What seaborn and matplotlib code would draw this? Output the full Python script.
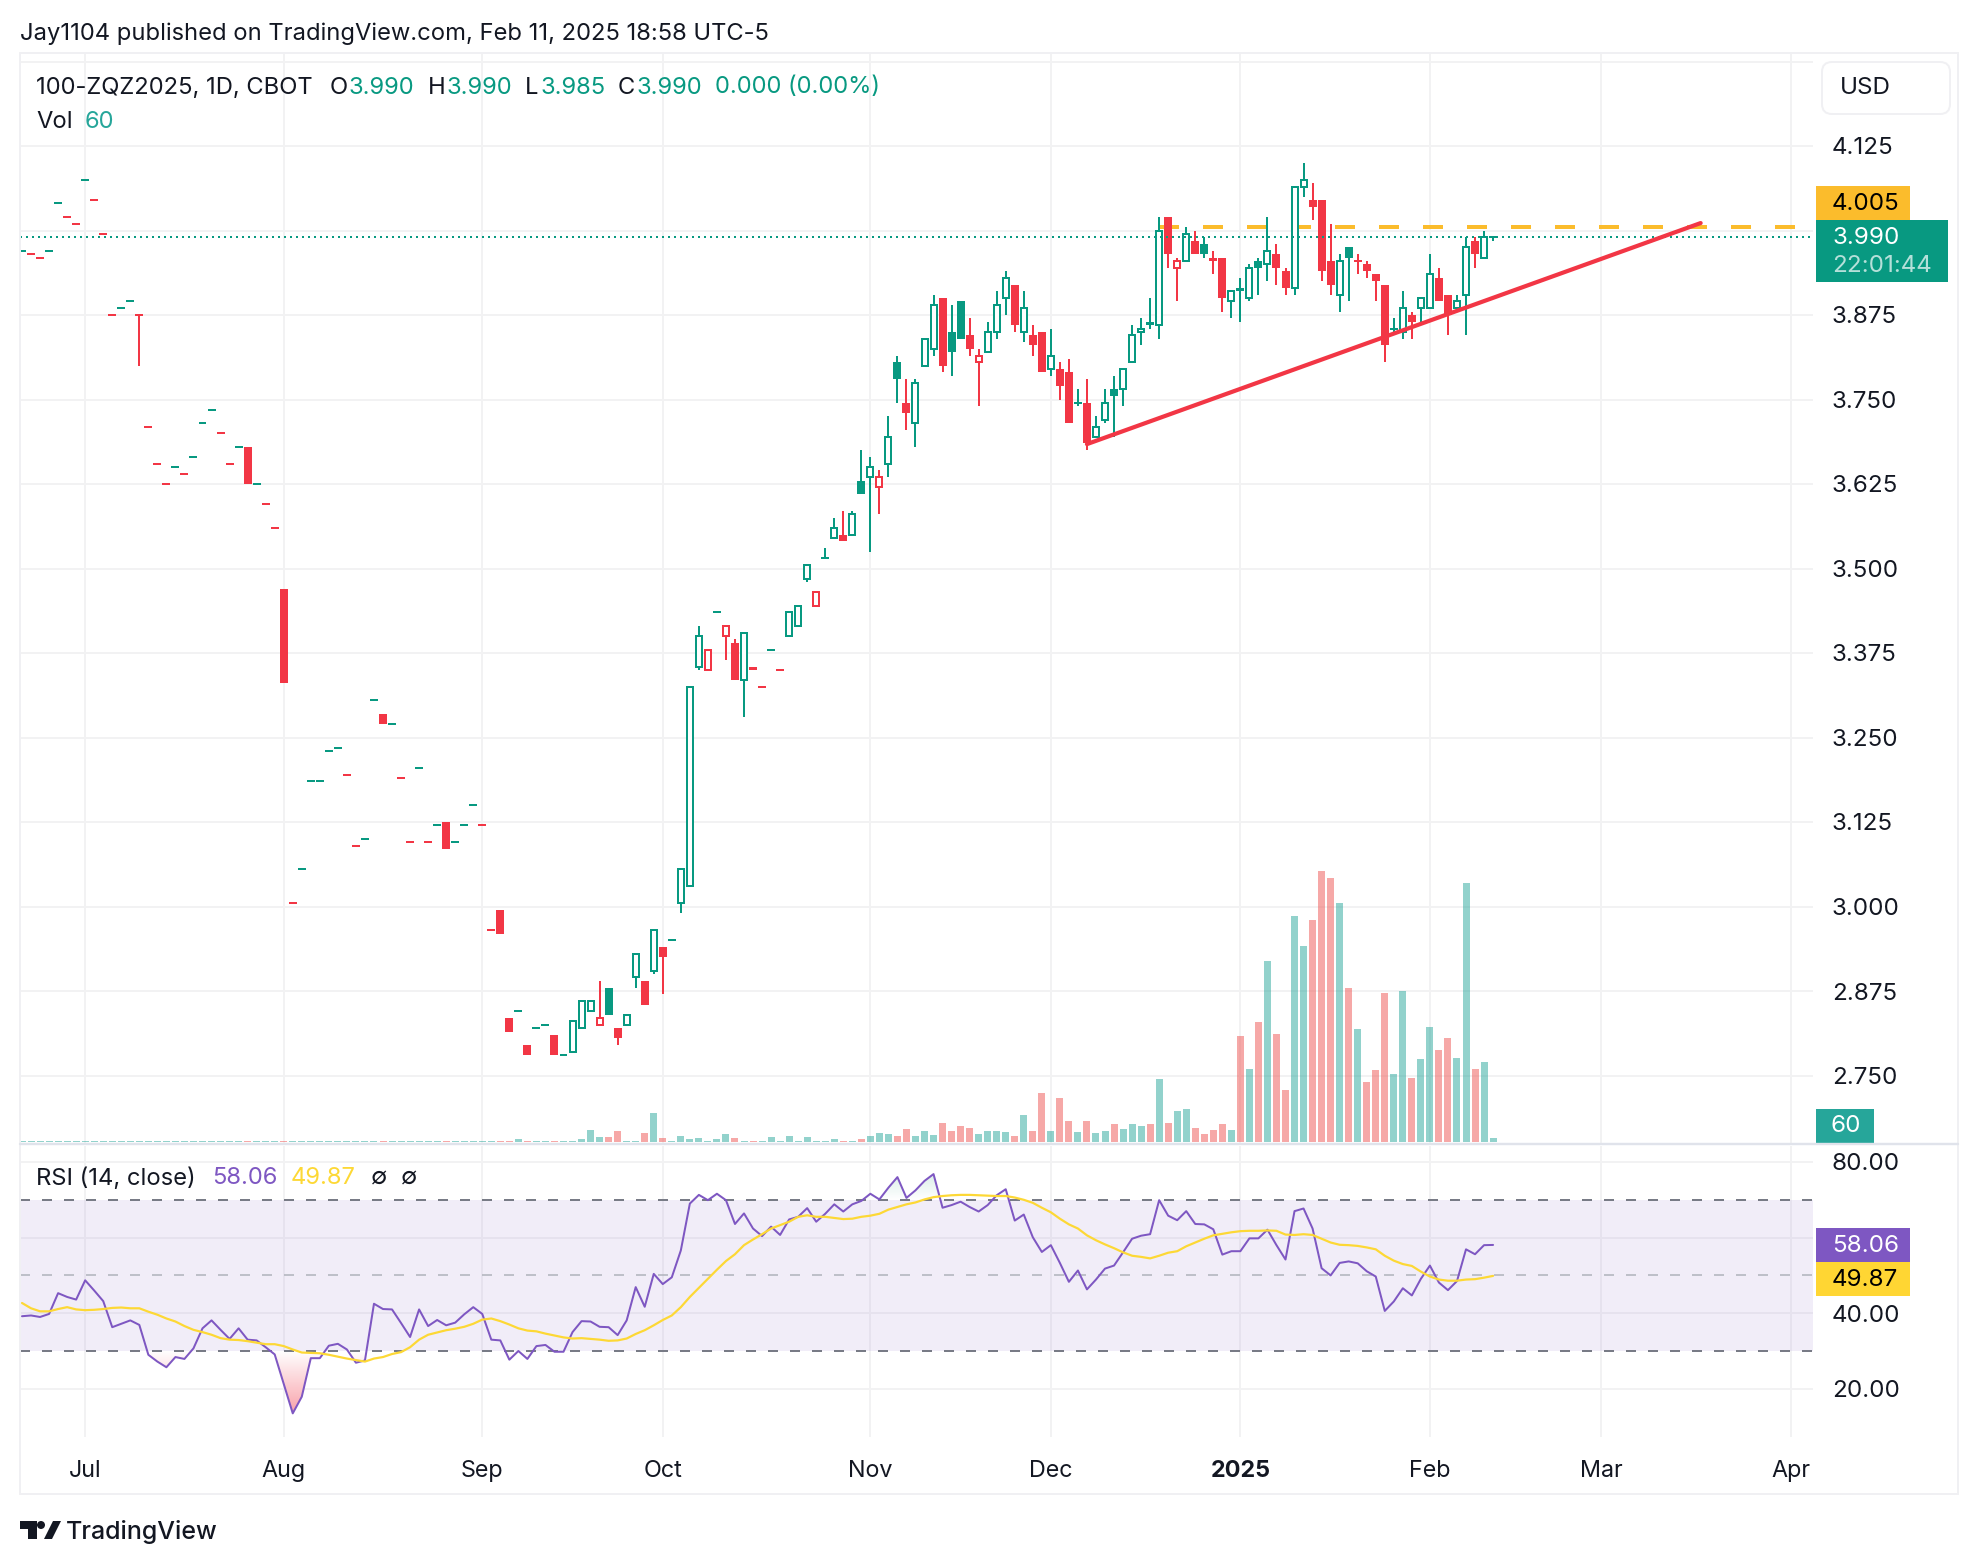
import numpy as np
import pandas as pd
import matplotlib
matplotlib.use("Agg")
import matplotlib.pyplot as plt
from matplotlib.patches import Rectangle, FancyBboxPatch, Circle, Polygon
from matplotlib.path import Path
from matplotlib.colors import LinearSegmentedColormap
import seaborn as sns

# --- data ---
opens = [3.97,3.965,3.96,3.97,4.04,4.02,4.01,4.075,4.045,3.995,
    3.875,3.885,3.895,3.875,3.71,3.655,3.625,3.65,3.64,3.665,
    3.715,3.735,3.70,3.655,3.68,3.68,3.625,3.595,3.56,3.47,
    3.005,3.055,3.185,3.185,3.23,3.235,3.195,3.09,3.10,3.305,
    3.285,3.27,3.19,3.095,3.205,3.095,3.12,3.125,3.095,3.12,
    3.15,3.12,2.965,2.995,2.835,2.845,2.795,2.82,2.825,2.81,
    2.78,2.785,2.82,2.845,2.825,2.88,2.82,2.825,2.895,2.89,
    2.905,2.94,2.95,3.005,3.03,3.355,3.35,3.435,3.40,3.39,
    3.335,3.355,3.325,3.38,3.35,3.40,3.415,3.485,3.445,3.515,
    3.545,3.55,3.55,3.63,3.635,3.62,3.655,3.805,3.745,3.715,
    3.80,3.825,3.90,3.85,3.895,3.845,3.805,3.82,3.85,3.90,
    3.92,3.85,3.845,3.85,3.795,3.795,3.79,3.745,3.745,3.695,
    3.72,3.765,3.765,3.805,3.85,3.865,3.86,4.02,3.945,3.955,
    3.985,3.98,3.96,3.96,3.895,3.915,3.90,3.955,3.95,3.965,
    3.94,3.915,4.065,4.045,4.045,3.955,3.905,3.975,3.955,3.95,
    3.935,3.92,3.855,3.85,3.875,3.885,3.885,3.93,3.905,3.885,
    3.905,3.985,3.96,3.99]
closes = [3.97,3.965,3.96,3.97,4.04,4.02,4.01,4.075,4.045,3.995,
    3.875,3.885,3.895,3.875,3.71,3.655,3.625,3.65,3.64,3.665,
    3.715,3.735,3.70,3.655,3.68,3.625,3.625,3.595,3.56,3.33,
    3.005,3.055,3.185,3.185,3.23,3.235,3.195,3.09,3.10,3.305,
    3.27,3.27,3.19,3.095,3.205,3.095,3.12,3.085,3.095,3.12,
    3.15,3.12,2.965,2.96,2.815,2.845,2.78,2.82,2.825,2.78,
    2.78,2.83,2.86,2.86,2.835,2.84,2.805,2.84,2.93,2.855,
    2.965,2.925,2.95,3.055,3.325,3.40,3.38,3.435,3.415,3.335,
    3.405,3.35,3.325,3.38,3.35,3.435,3.445,3.505,3.465,3.515,
    3.56,3.54,3.58,3.61,3.65,3.635,3.695,3.78,3.73,3.775,
    3.84,3.89,3.80,3.82,3.84,3.825,3.815,3.85,3.89,3.93,
    3.86,3.885,3.83,3.79,3.815,3.77,3.715,3.745,3.685,3.71,
    3.745,3.755,3.795,3.845,3.855,3.86,4.0,3.965,3.955,3.995,
    3.965,3.965,3.955,3.90,3.91,3.91,3.945,3.945,3.97,3.945,
    3.915,4.065,4.075,4.035,3.94,3.92,3.955,3.96,3.955,3.94,
    3.925,3.83,3.855,3.885,3.865,3.90,3.935,3.895,3.875,3.895,
    3.975,3.965,3.99,3.99]
highs = [3.97,3.965,3.96,3.97,4.04,4.02,4.01,4.075,4.045,3.995,
    3.875,3.885,3.895,3.875,3.71,3.655,3.625,3.65,3.64,3.665,
    3.715,3.735,3.70,3.655,3.68,3.68,3.625,3.595,3.56,3.47,
    3.005,3.055,3.185,3.185,3.23,3.235,3.195,3.09,3.10,3.305,
    3.285,3.27,3.19,3.095,3.205,3.095,3.12,3.125,3.095,3.12,
    3.15,3.12,2.965,2.995,2.835,2.845,2.795,2.82,2.825,2.81,
    2.78,2.83,2.86,2.86,2.89,2.88,2.82,2.84,2.93,2.89,
    2.965,2.94,2.95,3.055,3.325,3.415,3.38,3.435,3.415,3.395,
    3.405,3.355,3.325,3.38,3.35,3.435,3.445,3.505,3.465,3.53,
    3.575,3.585,3.585,3.675,3.665,3.645,3.725,3.815,3.78,3.78,
    3.84,3.905,3.90,3.89,3.895,3.87,3.825,3.865,3.91,3.94,
    3.92,3.91,3.86,3.85,3.855,3.805,3.81,3.765,3.78,3.725,
    3.765,3.785,3.795,3.86,3.87,3.90,4.02,4.02,3.96,4.005,
    4.0,3.99,3.97,3.96,3.91,3.93,3.95,3.96,4.02,3.98,
    3.945,4.065,4.10,4.07,4.045,4.01,3.965,3.975,3.965,3.955,
    3.935,3.92,3.87,3.91,3.88,3.90,3.965,3.945,3.905,3.905,
    3.99,3.99,4.0,3.99]
lows = [3.97,3.965,3.96,3.97,4.04,4.02,4.01,4.075,4.045,3.995,
    3.875,3.885,3.895,3.80,3.71,3.655,3.625,3.65,3.64,3.665,
    3.715,3.735,3.70,3.655,3.68,3.625,3.625,3.595,3.56,3.33,
    3.005,3.055,3.185,3.185,3.23,3.235,3.195,3.09,3.10,3.305,
    3.27,3.27,3.19,3.095,3.205,3.095,3.12,3.085,3.095,3.12,
    3.15,3.12,2.965,2.96,2.815,2.845,2.78,2.82,2.825,2.78,
    2.78,2.785,2.82,2.845,2.825,2.84,2.795,2.825,2.88,2.855,
    2.90,2.87,2.95,2.99,3.03,3.35,3.35,3.435,3.365,3.335,
    3.28,3.35,3.325,3.38,3.35,3.40,3.415,3.48,3.445,3.515,
    3.545,3.54,3.55,3.61,3.525,3.58,3.635,3.745,3.705,3.68,
    3.80,3.815,3.79,3.785,3.84,3.815,3.74,3.82,3.84,3.875,
    3.85,3.835,3.815,3.79,3.785,3.75,3.715,3.74,3.675,3.695,
    3.715,3.695,3.74,3.805,3.83,3.855,3.84,3.945,3.895,3.955,
    3.965,3.96,3.935,3.88,3.87,3.865,3.895,3.905,3.925,3.92,
    3.905,3.905,4.05,4.015,3.925,3.905,3.88,3.895,3.935,3.93,
    3.895,3.805,3.845,3.84,3.84,3.86,3.885,3.895,3.845,3.88,
    3.845,3.945,3.96,3.985]
sides = ("grrggrrgrr" "rggrrrrgrg" "ggrrgrgrrr" "rgggggrrgg" "rgrrgrgrgg"
         "grrrrgrggr" "ggggrgrggr" "grggggrgrr" "grrgrgggrg" "grgggrggrg"
         "ggrggrrggg" "rgrrgrrgrg" "gggggggrrg" "rgrrgggggr" "rggrrrggrr"
         "rrggrggrrg" "grgg")
volumes = [10]*55 + [45,15,15,15,15,15,15,45,180,75,
    75,165,20,15,135,435,60,15,90,45,60,15,45,120,60,15,15,15,75,15,
    90,15,75,15,15,45,15,15,45,90,135,120,90,195,90,165,105,285,
    170,245,210,115,170,170,150,95,400,170,737,170,660,320,150,320,130,
    165,270,195,270,240,270,945,285,465,495,210,120,180,270,180,
    1590,1095,1800,2715,1620,780,3390,2940,3330,4065,3960,3585,2310,1695,900,
    1080,2235,1020,2265,960,1245,1725,1380,1560,1260,3885,1095,1200,60]
rsi = [39.2,39.4,39.0,39.8,45.3,44.3,43.6,48.7,46.0,43.2,
    36.3,37.2,38.1,36.9,29.0,27.2,25.7,28.4,27.9,30.7,
    36.0,38.1,35.6,33.2,36.0,33.0,32.8,31.0,29.1,21.3,
    13.5,17.9,28.1,28.1,31.4,31.9,30.4,26.9,27.5,42.5,
    41.1,41.0,37.4,33.7,41.0,36.6,38.2,36.8,37.5,39.7,
    41.6,39.8,33.0,32.8,27.7,30.0,27.9,31.3,31.6,29.8,
    29.8,35.0,37.9,37.8,36.4,36.3,34.2,38.1,46.9,41.7,
    50.4,47.7,49.5,56.6,69.0,71.3,69.9,71.6,69.9,63.6,
    66.4,62.4,60.4,62.9,60.7,64.8,65.5,67.8,64.2,66.3,
    68.8,66.9,68.8,69.7,71.6,70.1,73.2,76.0,70.5,72.5,
    75.0,76.8,67.9,68.6,69.5,68.1,66.9,68.6,71.2,72.8,
    64.5,66.1,60.1,56.2,58.0,53.3,48.3,51.3,46.3,48.9,
    51.8,52.6,56.1,59.7,60.5,60.9,69.9,65.8,64.6,67.0,
    63.6,63.5,62.2,55.5,56.4,56.4,59.8,59.8,62.1,58.0,
    54.2,67.0,67.7,62.4,51.9,50.0,53.3,53.7,53.2,51.1,
    49.7,40.6,43.1,46.6,44.7,49.1,52.6,48.1,46.1,48.5,
    56.9,55.6,58.0,58.06]
rsi_ma = [42.7,41.3,40.5,40.5,41.1,41.6,41.0,40.8,40.9,41.1,
    41.4,41.5,41.3,41.3,40.4,39.6,38.6,37.8,36.6,35.6,
    35.0,34.3,33.4,33.0,32.9,32.6,32.2,31.8,31.8,31.3,
    30.4,29.6,29.5,29.4,29.0,28.5,28.0,27.6,27.2,28.0,
    28.4,29.2,29.7,31.0,33.0,34.3,34.9,35.5,35.9,36.4,
    37.2,38.3,38.6,37.9,37.0,36.0,35.4,35.2,34.6,34.1,
    33.6,33.3,33.4,33.2,33.0,32.7,32.8,33.3,34.5,35.5,
    36.8,38.2,39.4,41.6,44.3,46.7,49.1,51.5,53.8,55.6,
    58.0,59.5,60.9,62.4,63.3,64.2,65.5,65.9,65.5,65.5,
    65.2,64.9,65.0,65.5,65.8,66.3,67.4,68.1,68.8,69.3,
    70.1,70.7,71.0,71.2,71.3,71.3,71.2,71.1,71.0,71.0,
    70.6,70.0,69.2,67.9,66.7,65.0,63.5,62.4,60.6,59.3,
    58.2,57.2,56.1,55.2,54.9,54.5,55.2,56.0,56.4,57.7,
    58.7,59.7,60.6,61.0,61.4,61.7,61.8,61.8,61.9,61.8,
    60.8,60.7,60.9,60.7,59.7,58.7,58.1,58.0,57.8,57.4,
    56.9,55.2,53.9,53.0,52.5,51.0,49.7,48.9,48.6,48.6,
    48.9,49.0,49.4,49.87]

month_bars = [7, 29, 51, 71, 94, 114, 135, 156, 175, 196]
month_labels = ["Jul", "Aug", "Sep", "Oct", "Nov", "Dec", "2025", "Feb", "Mar", "Apr"]
price_ticks = [2.75, 2.875, 3.0, 3.125, 3.25, 3.375, 3.5, 3.625, 3.75, 3.875, 4.0, 4.125, 4.25]
rsi_ticks = [20, 40, 60, 80]
trend_bars = [118, 186]
trend_prices = [3.684, 4.011]
resistance = 4.005
last_close = 3.99

# --- kolory / uklad ---
GREEN = "#089981"
RED = "#F23645"
TEXT = "#131722"
GRID = "#F2F2F3"
PURPLE = "#7E57C2"
YELLOW = "#FDD835"
ORANGE = "#FBBC2C"
W, H = 1978, 1564
BAR_PX = 9.025
LW = 72 / 100  # 1 px in points
AXIS_SIZE = 17.4
LEGEND_SIZE = 17.1


def px_axes(left, top, right, bottom, **kw):
    return fig.add_axes([left / W, 1 - bottom / H, (right - left) / W, (bottom - top) / H], **kw)


sns.set_theme(style="white")
plt.rcParams["font.family"] = ["Inter", "DejaVu Sans"]

fig = plt.figure(figsize=(W / 100, H / 100), dpi=100, facecolor="white")

bars = np.arange(len(closes))
o = np.array(opens)
c = np.array(closes)
h = np.array(highs)
l = np.array(lows)
cols = np.array([GREEN if s == "g" else RED for s in sides])

xlim = ((20 - 22) / BAR_PX, (1813 - 22) / BAR_PX)

# --- price pane ---
ax = px_axes(20, 53, 1813, 1144, zorder=1)
ax.vlines(bars, l, h, colors=cols, lw=2 * LW, zorder=2)
f = c < o
ax.bar(bars[f], (o - c)[f], bottom=c[f], width=8 / BAR_PX, color=cols[f], linewidth=0, zorder=3)
u = c > o
ax.bar(bars[u], (c - o)[u], bottom=o[u], width=6 / BAR_PX, facecolor="white",
       edgecolor=cols[u], linewidth=2 * LW, zorder=3)
d = c == o
ax.hlines(c[d], bars[d] - 0.443, bars[d] + 0.443, colors=cols[d], lw=2 * LW, zorder=3)

ax.plot(trend_bars, trend_prices, color=RED, lw=4.2 * LW, zorder=5, solid_capstyle="round")
ax.plot([126, xlim[1]], [resistance, resistance], color=ORANGE, lw=4 * LW, zorder=1.5,
        linestyle=(0, (5, 6)), dash_capstyle="butt")
ax.plot(xlim, [last_close, last_close], color=GREEN, lw=2 * LW, zorder=4,
        linestyle=(0, (1, 2)), dash_capstyle="butt")

ax.set_xlim(xlim)
ax.set_ylim(4.125 - (1144 - 146) / 676, 4.125 + (146 - 53) / 676)
ax.set_xticks(month_bars)
ax.set_yticks(price_ticks)
# 4.000 sits behind the 4.005 tag, 4.250 behind the USD button
ax.set_yticklabels(["" if p in (4.0, 4.25) else f"{p:.3f}" for p in price_ticks])
ax.yaxis.tick_right()
ax.tick_params(axis="y", length=0, pad=19 * LW, labelsize=AXIS_SIZE, labelcolor=TEXT)
ax.tick_params(axis="x", length=0, labelbottom=False)
ax.grid(True, color=GRID, lw=2 * LW)
ax.set_axisbelow(True)
sns.despine(ax=ax, left=True, right=True, top=True, bottom=True)

# --- volume overlay ---
vol_df = pd.DataFrame({"bar": bars, "volume": volumes,
                       "vol_side": np.where(c >= o, "up", "down")})
ax_vol = px_axes(20, 53, 1813, 1142, zorder=2)
ax_vol.patch.set_alpha(0)
sns.barplot(data=vol_df, x="bar", y="volume", hue="vol_side", dodge=False, native_scale=True,
            palette={"up": "#26A69A", "down": "#EF5350"}, width=7 / BAR_PX, saturation=1,
            alpha=0.5, linewidth=0, legend=False, ax=ax_vol)
ax_vol.set_xlim(xlim)
ax_vol.set_ylim(0, (1142 - 53) * 15)
ax_vol.axis("off")

# --- RSI pane ---
ax_rsi = px_axes(20, 1146, 1813, 1437, zorder=1)
rsi_df = pd.DataFrame({"bar": bars, "rsi": rsi, "ma": rsi_ma})
rsi_arr = np.array(rsi)
rsi_low = 80 - (1437 - 1162) / 3.78
rsi_high = 80 + (1162 - 1146) / 3.78
ax_rsi.axhspan(30, 70, color=PURPLE, alpha=0.1, lw=0, zorder=1)
ax_rsi.axhline(70, color="#787B86", lw=2 * LW, linestyle=(0, (5, 6)), dash_capstyle="butt", zorder=2)
ax_rsi.axhline(30, color="#787B86", lw=2 * LW, linestyle=(0, (5, 6)), dash_capstyle="butt", zorder=2)
ax_rsi.axhline(50, color="#B2B5BE", lw=1.6 * LW, linestyle=(0, (6.25, 7.5)), dash_capstyle="butt", zorder=2)

# gradient below 30 and above 70, clipped to the area under the line
grad_lo = LinearSegmentedColormap.from_list("lo", ["#F9A3AB", "#FFFFFF"])
grad_hi = LinearSegmentedColormap.from_list("hi", ["#FFFFFF", "#DCEFE9"])
poly_lo = ax_rsi.fill_between(bars, rsi_arr, 30, where=rsi_arr < 30, interpolate=True, color="none")
poly_hi = ax_rsi.fill_between(bars, rsi_arr, 70, where=rsi_arr > 70, interpolate=True, color="none")
im_lo = ax_rsi.imshow(np.linspace(0, 1, 64)[:, None], origin="lower", aspect="auto", cmap=grad_lo,
                      extent=[xlim[0], xlim[1], 13.5, 30], zorder=1.5)
im_lo.set_clip_path(Path.make_compound_path(*poly_lo.get_paths()), transform=ax_rsi.transData)
im_hi = ax_rsi.imshow(np.linspace(0, 1, 64)[:, None], origin="lower", aspect="auto", cmap=grad_hi,
                      extent=[xlim[0], xlim[1], 70, 76.8], zorder=1.5)
im_hi.set_clip_path(Path.make_compound_path(*poly_hi.get_paths()), transform=ax_rsi.transData)

sns.lineplot(data=rsi_df, x="bar", y="rsi", color=PURPLE, lw=2 * LW, errorbar=None, ax=ax_rsi, zorder=3)
sns.lineplot(data=rsi_df, x="bar", y="ma", color=YELLOW, lw=2.2 * LW, errorbar=None, ax=ax_rsi, zorder=4)
ax_rsi.set_xlim(xlim)
ax_rsi.set_ylim(rsi_low, rsi_high)
ax_rsi.set_xlabel("")
ax_rsi.set_ylabel("")
ax_rsi.set_xticks(month_bars)
ax_rsi.set_xticklabels(month_labels)
ax_rsi.get_xticklabels()[6].set_fontweight("bold")
ax_rsi.set_yticks(rsi_ticks)
# 60.00 is covered by the RSI value tags
ax_rsi.set_yticklabels(["" if v == 60 else f"{v:.2f}" for v in rsi_ticks])
ax_rsi.yaxis.tick_right()
ax_rsi.tick_params(axis="y", length=0, pad=19 * LW, labelsize=AXIS_SIZE, labelcolor=TEXT)
ax_rsi.tick_params(axis="x", length=0, pad=23 * LW, labelsize=16.8, labelcolor=TEXT)
ax_rsi.grid(True, color=GRID, lw=2 * LW)
ax_rsi.set_axisbelow(True)
sns.despine(ax=ax_rsi, left=True, right=True, top=True, bottom=True)

# --- frame, labels, logo: overlay in pixel coordinates ---
top = fig.add_axes([0, 0, 1, 1], zorder=5)
top.set_xlim(0, W)
top.set_ylim(H, 0)
top.axis("off")
top.patch.set_alpha(0)
for x0, y0, x1, y1 in [(20, 53, 1958, 53), (20, 1494, 1958, 1494), (20, 53, 20, 1494), (1958, 53, 1958, 1494)]:
    top.plot([x0, x1], [y0, y1], color="#F0F0F3", lw=2 * LW)
top.plot([20, 1958], [1144, 1144], color="#E0E3EB", lw=2.4 * LW)


def tag(x0, y0, x1, y1, color):
    top.add_patch(Rectangle((x0, y0), x1 - x0, y1 - y0, facecolor=color, edgecolor="none"))


def txt(x, y, s, color=TEXT, size=LEGEND_SIZE, **kw):
    top.text(x, y + 2.5, s, color=color, fontsize=size, va="center", **kw)


top.add_patch(FancyBboxPatch((1822, 62), 128, 52, boxstyle="round,pad=0,rounding_size=10",
                             facecolor="white", edgecolor="#F0F0F3", lw=2 * LW))
txt(1840, 86, "USD", color="#131722", size=AXIS_SIZE)

tag(1816, 186, 1910, 220, ORANGE)
txt(1832, 202, "4.005", color="black", size=AXIS_SIZE)
tag(1816, 220, 1948, 282, GREEN)
txt(1832, 236, "3.990", color="white", size=AXIS_SIZE)
txt(1832, 264, "22:01:44", color="#B5E0D9", size=AXIS_SIZE)
tag(1816, 1109, 1874, 1143, "#26A69A")
txt(1846, 1124, "60", color="white", size=AXIS_SIZE, ha="center")
tag(1816, 1228, 1910, 1262, PURPLE)
txt(1832, 1243, "58.06", color="white", size=AXIS_SIZE)
tag(1816, 1262, 1910, 1296, "#FFD633")
txt(1832, 1277, "49.87", color="black", size=AXIS_SIZE)

txt(20, 31, "Jay1104 published on TradingView.com, Feb 11, 2025 18:58 UTC-5")
txt(36, 85, "100-ZQZ2025, 1D, CBOT")
for x, label, value in [(330, "O", "3.990"), (428, "H", "3.990"), (525, "L", "3.985"), (618, "C", "3.990")]:
    txt(x, 85, label)
    txt(x + 19 if label != "L" else x + 15, 85, value, color=GREEN)
txt(715, 85, "0.000 (0.00%)", color=GREEN)
txt(36, 120, "Vol")
txt(85, 120, "60", color="#26A69A")
txt(36, 1176, "RSI (14, close)")
txt(212, 1176, "58.06", color=PURPLE)
txt(291, 1176, "49.87", color=YELLOW)
txt(371, 1176, "∅")
txt(401, 1176, "∅")

top.add_patch(Polygon([(20, 1521), (37, 1521), (37, 1539), (28, 1539), (28, 1529), (20, 1529)], color=TEXT, lw=0))
top.add_patch(Circle((41, 1525), 4, color=TEXT, lw=0))
top.add_patch(Polygon([(53, 1521), (61, 1521), (52, 1539), (44, 1539)], color=TEXT, lw=0))
txt(66, 1530, "TradingView", size=18, fontweight="medium")

fig.savefig("out.png", dpi=100)
print(len(opens), len(closes), len(highs), len(lows), len(sides), len(volumes), len(rsi), len(rsi_ma))
